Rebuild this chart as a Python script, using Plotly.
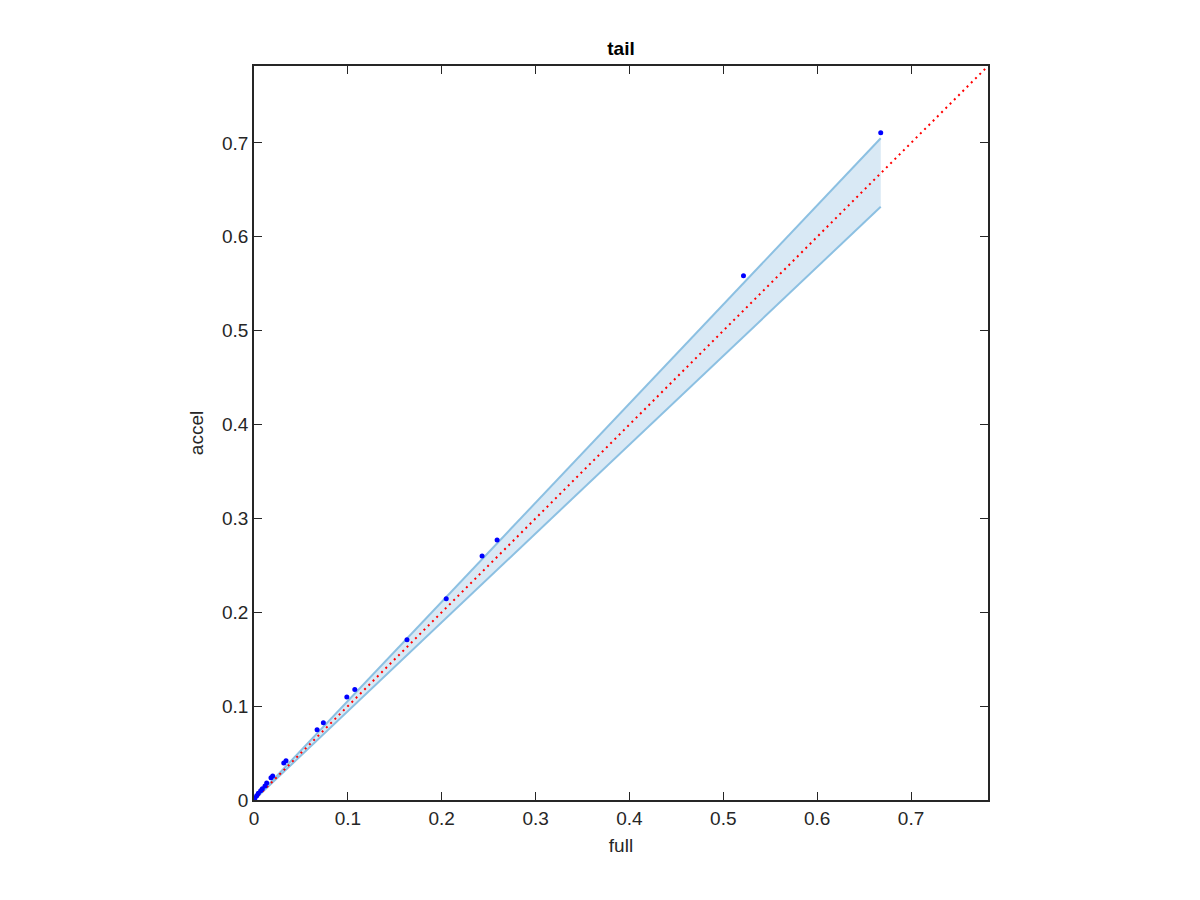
import plotly.graph_objects as go

# Data
full = [0.0, 0.0011, 0.0029, 0.0046, 0.0071, 0.0089, 0.0117, 0.0135, 0.0181, 0.0199,
        0.0317, 0.0341, 0.0672, 0.0739, 0.0989, 0.1074, 0.163, 0.2048, 0.243, 0.259,
        0.5215, 0.6677]
accel = [0.0007, 0.0021, 0.0046, 0.0071, 0.0099, 0.0120, 0.0149, 0.0181, 0.0238, 0.0256,
         0.0394, 0.0419, 0.0749, 0.0824, 0.1098, 0.1176, 0.1706, 0.2143, 0.260, 0.277,
         0.5586, 0.711]

band_x = [0.0, 0.6677]
band_upper = [0.0, 0.705]
band_lower = [0.0, 0.632]

diag = [0.0, 0.782]
axis_range = [0.0, 0.782]
ticks = [0, 0.1, 0.2, 0.3, 0.4, 0.5, 0.6, 0.7]
tick_text = ["0", "0.1", "0.2", "0.3", "0.4", "0.5", "0.6", "0.7"]

FONT = "Liberation Sans, Arial, Helvetica, sans-serif"

fig = go.Figure()

# band fill
fig.add_trace(go.Scatter(
    x=band_x + band_x[::-1], y=band_upper + band_lower[::-1],
    fill="toself", fillcolor="rgb(217,233,245)", line=dict(width=0),
    mode="lines", hoverinfo="skip", showlegend=False))
# band edges
fig.add_trace(go.Scatter(x=band_x, y=band_upper, mode="lines",
                         line=dict(color="rgb(140,192,226)", width=2), showlegend=False))
fig.add_trace(go.Scatter(x=band_x, y=band_lower, mode="lines",
                         line=dict(color="rgb(140,192,226)", width=2), showlegend=False))
# diagonal
fig.add_trace(go.Scatter(x=diag, y=diag, mode="lines",
                         line=dict(color="red", width=2, dash="2px,4px"), showlegend=False))
# points
fig.add_trace(go.Scatter(x=full, y=accel, mode="markers",
                         marker=dict(color="blue", size=5), showlegend=False))

axis_common = dict(
    range=axis_range, tickvals=ticks, ticktext=tick_text,
    showgrid=False, zeroline=False, showline=True, linecolor="#262626", linewidth=1.5,
    mirror="ticks", ticks="inside", ticklen=8, tickwidth=1.2, tickcolor="#262626",
    tickfont=dict(family=FONT, size=19, color="#262626"),
)

fig.update_layout(
    width=1200, height=900,
    margin=dict(l=246, r=220, t=58, b=108),
    paper_bgcolor="white", plot_bgcolor="white",
    title=dict(text="<b>tail</b>", x=(246 + 980) / 2 / 1200, xanchor="center",
               y=1 - 40 / 900, yanchor="middle",
               font=dict(family=FONT, size=19, color="black")),
    xaxis=dict(**axis_common, title=dict(text="full", standoff=11,
               font=dict(family=FONT, size=19, color="#262626"))),
    yaxis=dict(**axis_common, title=dict(text="accel", standoff=13,
               font=dict(family=FONT, size=19, color="#262626"))),
)

fig.write_html("out.html")
